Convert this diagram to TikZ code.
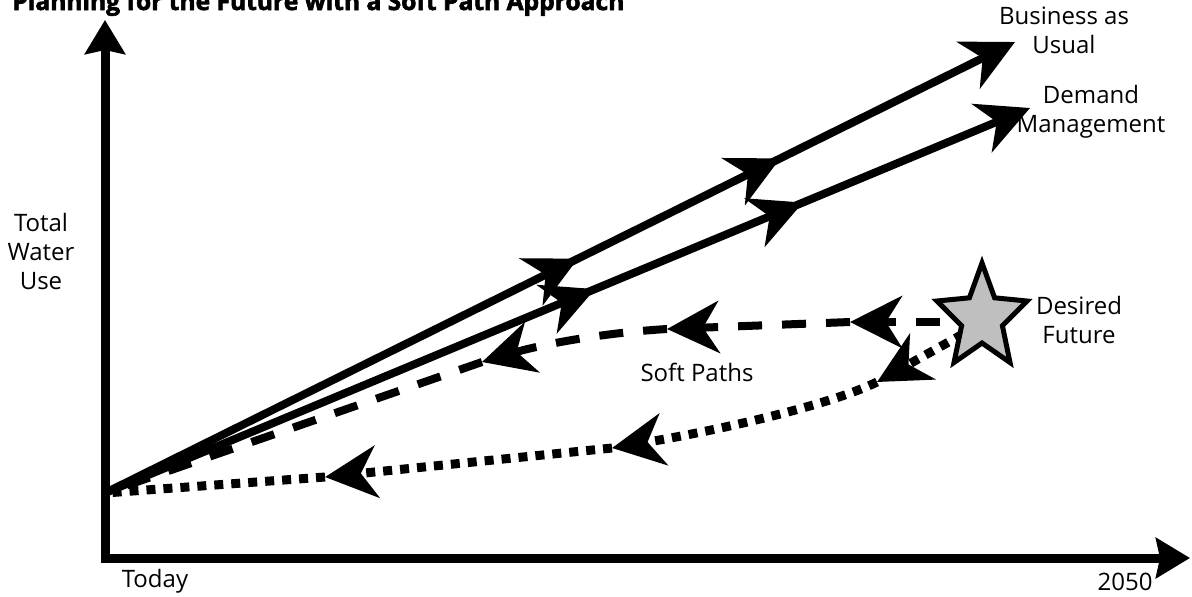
\documentclass[tikz,border=0pt]{standalone}
\usepackage{fontspec}
\setmainfont{Open Sans}
\newfontfamily\titlefont[FakeBold=2.5]{Open Sans Bold}
\usepackage{xcolor}
\usetikzlibrary{arrows.meta,decorations.markings}
\definecolor{starfill}{gray}{0.75}

\begin{document}
\begin{tikzpicture}[x=0.5pt, y=-0.5pt,
                    lbl/.style={font=\fontsize{12}{14.5}\selectfont, align=center, inner sep=0pt},
                    axis/.style={line width=4.5pt, line join=miter,
                      {Stealth[length=17pt,width=20pt,inset=2pt]}-{Stealth[length=17pt,width=20pt,inset=2pt]}},
                    trend/.style={line width=4pt, -{Stealth[length=26pt,width=26pt,inset=8pt]}},
                    midtips/.style 2 args={postaction={decorate}, decoration={markings,
                      mark=at position #1 with {\arrow{Stealth[length=26pt,width=26pt,inset=8pt]}},
                      mark=at position #2 with {\arrow{Stealth[length=26pt,width=26pt,inset=8pt]}}}},
                    soft/.style={trend, dash pattern=on 12pt off 10pt},
                    softer/.style={trend, line width=4.5pt, dash pattern=on 4.5pt off 4pt},
                    starline/.style={draw, line width=2.5pt, line join=miter, fill=starfill}]
  \useasboundingbox (0,0) rectangle (1192,596);
  \node[anchor=base west, inner sep=0pt, font=\fontsize{12.3}{14}\selectfont\titlefont] (ttl) at (12,10)
    {Planning for the Future with a Soft Path Approach};

  % axes
  \coordinate (ytop) at (105,20);
  \coordinate (corner) at (105,558);
  \coordinate (xend) at (1190,558);
  \coordinate (o) at (105,493);
  \draw[axis] (ytop) -- (corner) -- (xend);

  % business as usual and demand management
  \coordinate (bau end) at (1015,42);
  \coordinate (dm end) at (1030,108);
  \draw[trend, midtips={263.9pt}{376.8pt}] (o) -- (bau end);
  \draw[trend, midtips={265.4pt}{378pt}] (o) -- (dm end);

  % soft paths back from the desired future
  \coordinate (fut) at (982,318);
  \coordinate (fw) at (940,322);
  \coordinate (fs) at (963,334);
  \coordinate (s1) at (850,322);
  \coordinate (s2) at (667,329);
  \coordinate (s3) at (482,362);
  \draw[soft] (fw) -- (s1);
  \draw[soft] (s1) -- (s2);
  \draw[soft] (s2) .. controls (600,333) and (540,345) .. (s3);
  \draw[soft, -] (s3) -- (o);
  \coordinate (t1) at (877,382);
  \coordinate (t2) at (612,448);
  \coordinate (t3) at (325,477);
  \draw[softer] (fs) -- (t1);
  \draw[softer] (t1) .. controls (830,405) and (720,430) .. (t2);
  \draw[softer] (t2) -- (t3);
  \draw[softer, -] (t3) -- (o);
  \draw[starline] (982,263) -- (994.6,297.8) -- (1027,301) -- (1002.4,325.7) -- (1010,362.5)
    -- (982,343) -- (954,362.5) -- (961.6,325.7) -- (937,301) -- (969.4,297.8) -- cycle;

  \node[lbl] (bau) at (1064,30) {Business as\\Usual};
  \node[lbl] (dm) at (1091,112) {Demand\\Management};
  \node[lbl] (df) at (1079,320) {Desired\\Future};
  \node[lbl] (sp) at (697,372) {Soft Paths};
  \node[lbl] (twu) at (41,251) {Total\\Water\\Use};
  \node[lbl] (td) at (155,581) {Today};
  \node[lbl] (yr) at (1125,582) {2050};
\end{tikzpicture}
\end{document}
